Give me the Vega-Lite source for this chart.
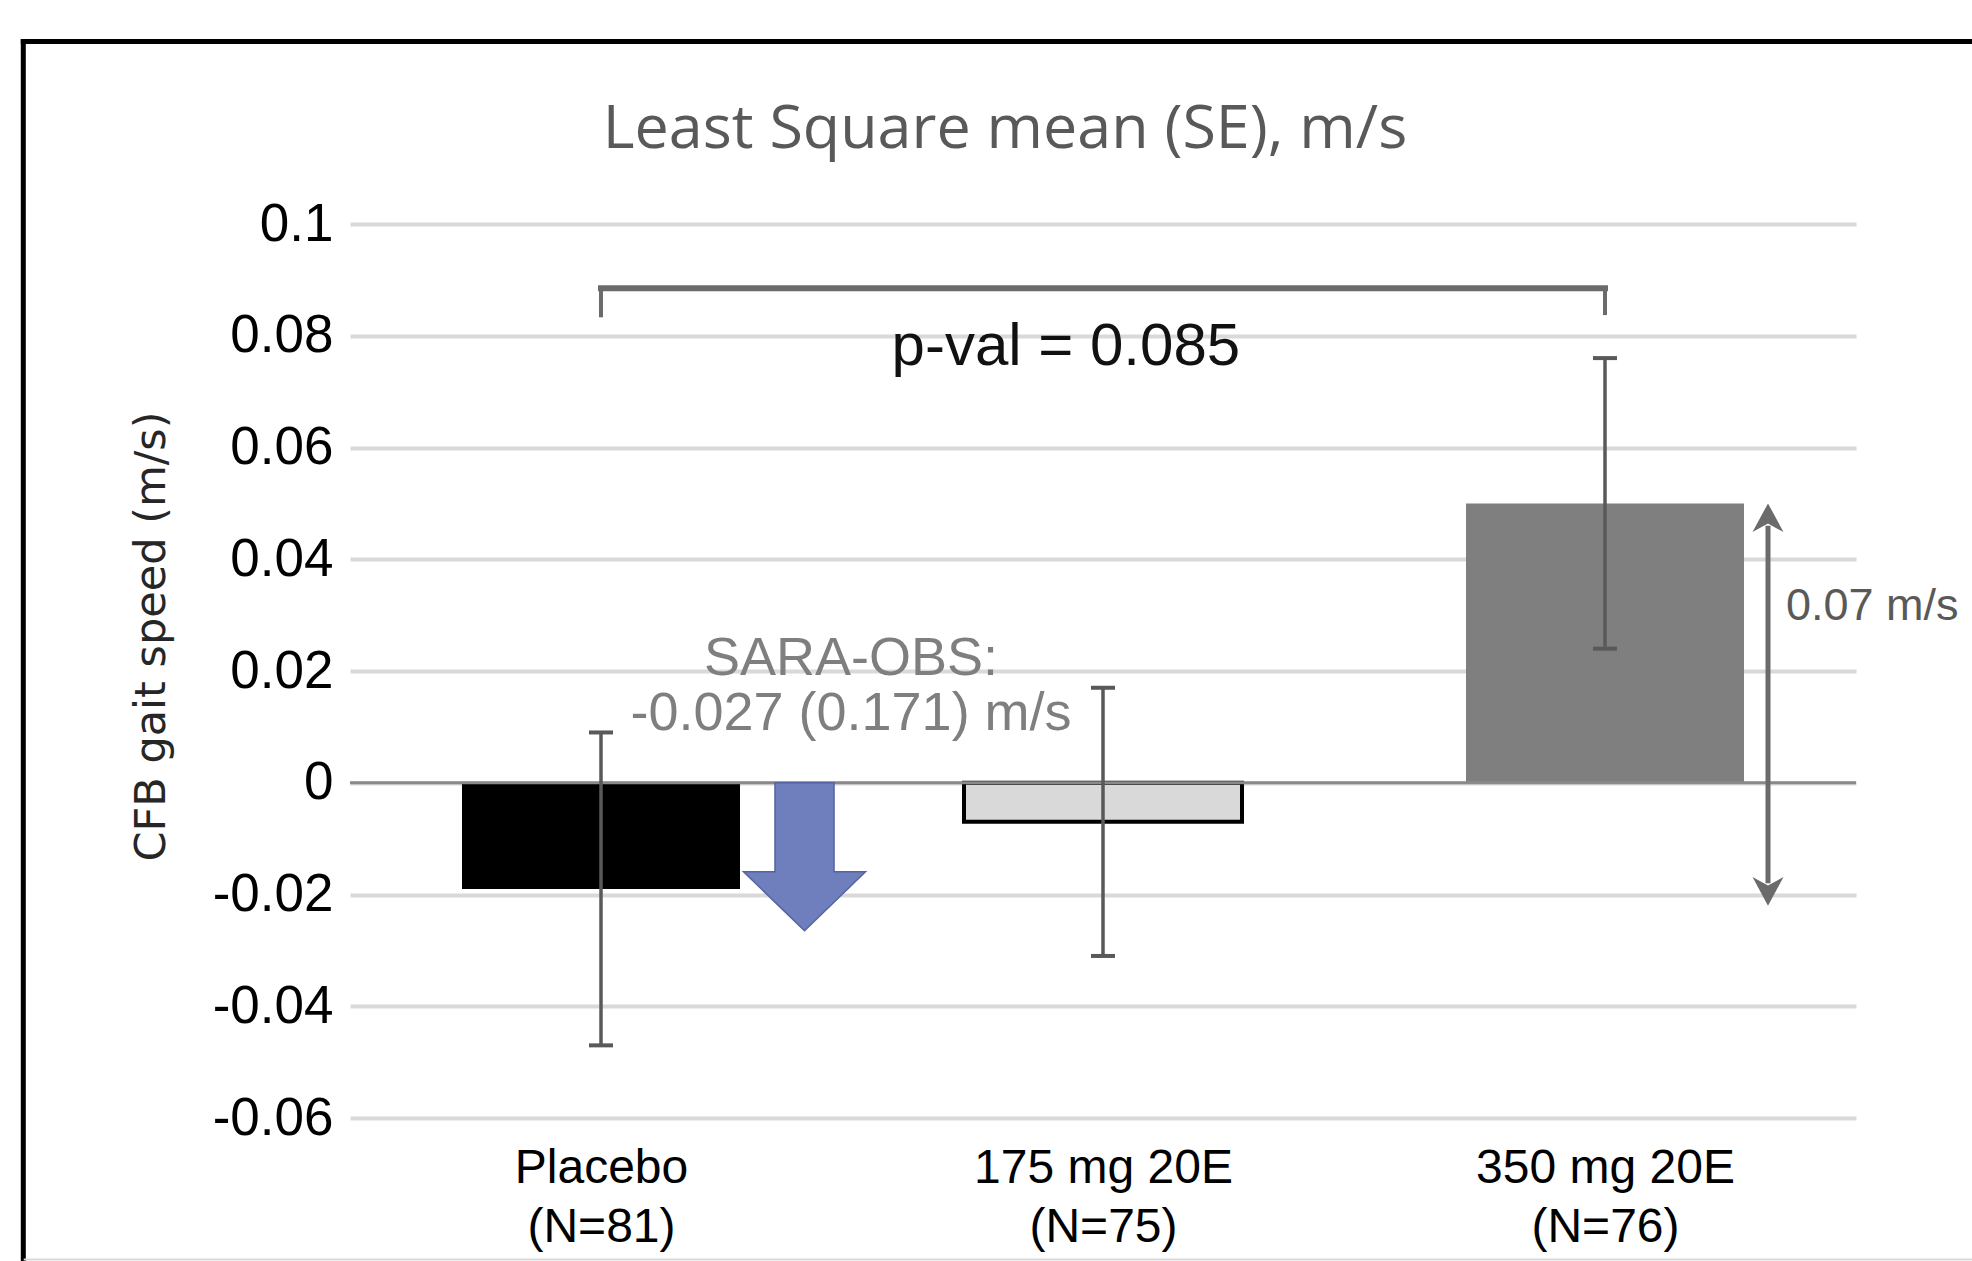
{
  "$schema": "https://vega.github.io/schema/vega-lite/v6.json",
  "width": 1506,
  "height": 894,
  "autosize": {"type": "none"},
  "padding": {"left": 350, "top": 224, "right": 116, "bottom": 143},
  "background": "white",
  "config": {"view": {"stroke": null}, "font": "Liberation Sans"},
  "datasets": {
    "groups": [
      {"group": "Placebo", "n": 81, "idx": 0, "mean": -0.019, "lo": -0.047, "hi": 0.009},
      {"group": "175 mg 20E", "n": 75, "idx": 1, "mean": -0.007, "lo": -0.031, "hi": 0.017},
      {"group": "350 mg 20E", "n": 76, "idx": 2, "mean": 0.05, "lo": 0.024, "hi": 0.076}
    ],
    "one": [{}]
  },
  "layer": [
    {
      "data": {"name": "groups"},
      "mark": {"type": "bar", "orient": "vertical", "width": 278, "strokeWidth": 4},
      "encoding": {
        "x": {
          "field": "idx", "type": "quantitative",
          "scale": {"domain": [-0.5, 2.5], "nice": false, "zero": false, "padding": 0},
          "axis": {
            "values": [0, 1, 2],
            "labelExpr": "datum.value == 0 ? ['Placebo', '(N=81)'] : datum.value == 1 ? ['175 mg 20E', '(N=75)'] : ['350 mg 20E', '(N=76)']",
            "title": null, "domain": false, "ticks": false, "grid": false,
            "labelFont": "Liberation Sans", "labelFontSize": 48, "labelColor": "#000000", "labelLimit": 0,
            "labelPadding": 26, "labelLineHeight": 59, "labelOverlap": false, "labelBound": false, "labelFlush": false
          }
        },
        "y": {
          "field": "mean", "type": "quantitative",
          "scale": {"domain": [-0.06, 0.1], "nice": false, "zero": false, "padding": 0},
          "axis": {
            "values": [-0.06, -0.04, -0.02, 0, 0.02, 0.04, 0.06, 0.08, 0.1],
            "labelExpr": "toString(datum.value)",
            "title": "CFB gait speed (m/s)",
            "titleFont": "DejaVu Sans", "titleFontSize": 43, "titleFontWeight": "normal", "titleColor": "#262626",
            "titleAngle": -90, "titleBaseline": "alphabetic", "titleAlign": "center",
            "titleX": -186, "titleY": 412,
            "domain": false, "ticks": false,
            "grid": true, "gridColor": "#d9d9d9", "gridWidth": 4,
            "labelFont": "Liberation Sans", "labelFontSize": 53, "labelColor": "#000000", "labelPadding": 17,
            "labelOverlap": false, "labelBound": false
          }
        },
        "y2": {"datum": 0},
        "color": {
          "field": "group", "type": "nominal",
          "scale": {"domain": ["Placebo", "175 mg 20E", "350 mg 20E"], "range": ["#000000", "#d9d9d9", "#7f7f7f"]},
          "legend": null
        },
        "stroke": {"condition": {"test": "datum.group === '175 mg 20E'", "value": "#000000"}, "value": "transparent"}
      }
    },
    {
      "data": {"name": "one"},
      "mark": {"type": "rule", "color": "#8a8a8a", "strokeWidth": 3},
      "encoding": {"y": {"datum": 0}}
    },
    {
      "data": {"name": "groups"},
      "mark": {"type": "rule", "color": "#595959", "strokeWidth": 3.5},
      "encoding": {
        "x": {"field": "idx", "type": "quantitative"},
        "y": {"field": "lo", "type": "quantitative"},
        "y2": {"field": "hi"}
      }
    },
    {
      "data": {"name": "groups"},
      "mark": {"type": "tick", "orient": "horizontal", "color": "#595959", "size": 24, "thickness": 4, "opacity": 1},
      "encoding": {
        "x": {"field": "idx", "type": "quantitative"},
        "y": {"field": "lo", "type": "quantitative"}
      }
    },
    {
      "data": {"name": "groups"},
      "mark": {"type": "tick", "orient": "horizontal", "color": "#595959", "size": 24, "thickness": 4, "opacity": 1},
      "encoding": {
        "x": {"field": "idx", "type": "quantitative"},
        "y": {"field": "hi", "type": "quantitative"}
      }
    },
    {
      "data": {"name": "one"},
      "mark": {
        "type": "point", "filled": true, "opacity": 1,
        "shape": "M-0.399,0L0.399,0L0.399,1.203L0.824,1.203L0,2L-0.824,1.203L-0.399,1.203Z",
        "size": 21904, "fill": "#6f7ebd", "stroke": "#55649f", "strokeWidth": 1.5
      },
      "encoding": {"x": {"datum": 0.4054}, "y": {"datum": 0}}
    },
    {
      "data": {"name": "one"},
      "mark": {"type": "rule", "color": "#6b6b6b", "strokeWidth": 5},
      "encoding": {"x": {"datum": 2.3247}, "y": {"datum": 0.046}, "y2": {"datum": -0.018}}
    },
    {
      "data": {"name": "one"},
      "mark": {"type": "point", "filled": true, "opacity": 1, "shape": "M0,0L1,1.85L0,1.3L-1,1.85Z", "size": 961, "color": "#6b6b6b"},
      "encoding": {"x": {"datum": 2.3247}, "y": {"datum": 0.05}}
    },
    {
      "data": {"name": "one"},
      "mark": {"type": "point", "filled": true, "opacity": 1, "shape": "M0,0L1,-1.85L0,-1.3L-1,-1.85Z", "size": 961, "color": "#6b6b6b"},
      "encoding": {"x": {"datum": 2.3247}, "y": {"datum": -0.022}}
    },
    {
      "data": {"name": "one"},
      "mark": {"type": "rule", "color": "#6b6b6b", "strokeWidth": 6, "strokeCap": "square"},
      "encoding": {"x": {"datum": 0}, "x2": {"datum": 2}, "y": {"datum": 0.0885}}
    },
    {
      "data": {"name": "one"},
      "mark": {"type": "rule", "color": "#6b6b6b", "strokeWidth": 4},
      "encoding": {"x": {"datum": 0}, "y": {"datum": 0.0833}, "y2": {"datum": 0.0888}}
    },
    {
      "data": {"name": "one"},
      "mark": {"type": "rule", "color": "#6b6b6b", "strokeWidth": 4},
      "encoding": {"x": {"datum": 2}, "y": {"datum": 0.0837}, "y2": {"datum": 0.0888}}
    },
    {
      "data": {"name": "one"},
      "mark": {"type": "text", "text": "p-val = 0.085", "font": "Liberation Sans", "fontSize": 60, "color": "#111111", "align": "center", "baseline": "alphabetic"},
      "encoding": {"x": {"datum": 0.926}, "y": {"datum": 0.07477}}
    },
    {
      "data": {"name": "one"},
      "mark": {"type": "text", "text": ["SARA-OBS:", "-0.027 (0.171) m/s"], "lineHeight": 55, "font": "Liberation Sans", "fontSize": 54, "color": "#7f7f7f", "align": "center", "baseline": "alphabetic"},
      "encoding": {"x": {"datum": 0.498}, "y": {"datum": 0.01928}}
    },
    {
      "data": {"name": "one"},
      "mark": {"type": "text", "text": "0.07 m/s", "font": "Liberation Sans", "fontSize": 45, "color": "#595959", "align": "left", "baseline": "alphabetic"},
      "encoding": {"x": {"datum": 2.3606}, "y": {"datum": 0.02913}}
    },
    {
      "data": {"name": "one"},
      "mark": {"type": "text", "text": "Least Square mean (SE), m/s", "font": "Open Sans", "fontSize": 61, "color": "#595959", "align": "center", "baseline": "alphabetic"},
      "encoding": {"x": {"datum": 0.8048}, "y": {"datum": 0.1136}}
    },
    {
      "data": {"name": "one"},
      "mark": {"type": "rule", "color": "#000000", "strokeWidth": 5},
      "encoding": {"x": {"datum": -1.1508}, "y": {"datum": 0.1331}, "y2": {"datum": -0.1}}
    },
    {
      "data": {"name": "one"},
      "mark": {"type": "rule", "color": "#000000", "strokeWidth": 5},
      "encoding": {"x": {"datum": -1.1558}, "x2": {"datum": 2.8}, "y": {"datum": 0.13266}}
    },
    {
      "data": {"name": "one"},
      "mark": {"type": "rule", "color": "#d9d9d9", "strokeWidth": 2},
      "encoding": {"x": {"datum": -1.15}, "x2": {"datum": 2.8}, "y": {"datum": -0.08532}}
    }
  ]
}
